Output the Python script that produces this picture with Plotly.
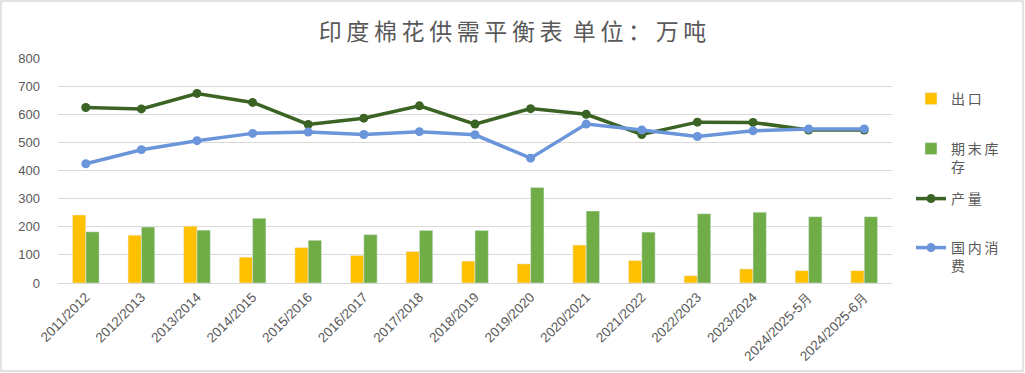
import plotly.graph_objects as go

categories = ["2011/2012", "2012/2013", "2013/2014", "2014/2015", "2015/2016",
              "2016/2017", "2017/2018", "2018/2019", "2019/2020", "2020/2021",
              "2021/2022", "2022/2023", "2023/2024", "2024/2025-5月", "2024/2025-6月"]
export_vals = [242, 170, 202, 92, 126, 98, 112, 78, 68, 135, 80, 26, 50, 44, 44]
stock_vals = [182, 199, 188, 230, 152, 172, 187, 187, 340, 256, 181, 246, 252, 236, 236]
production_vals = [624, 619, 674, 642, 564, 586, 630, 565, 620, 600, 528, 572, 571, 544, 544]
consumption_vals = [424, 474, 506, 532, 537, 528, 538, 527, 444, 565, 544, 521, 541, 548, 548]

W, H = 1025, 373
ML, MR, MT, MB = 58, 133, 58, 90
PW, PH = W - ML - MR, H - MT - MB

def px_x(x):
    return (x - ML) / PW

def px_y(y):
    return (H - MB - y) / PH

TS = "\u2009"
def spaced(s):
    return TS.join(list(s))

CJK = "Noto Sans CJK SC"
GRAY = "#595959"

fig = go.Figure()
fig.add_trace(go.Bar(x=categories, y=export_vals, name=spaced("出口"), showlegend=True,
                     marker_color="#FFC000", legend="legend"))
fig.add_trace(go.Bar(x=categories, y=stock_vals, name=spaced("期末库") + "<br>存", showlegend=True,
                     marker_color="#70AD47", legend="legend2"))
fig.add_trace(go.Scatter(x=categories, y=production_vals, name=spaced("产量"), showlegend=True,
                         mode="lines+markers", line=dict(color="#3A6324", width=3.5),
                         marker=dict(size=9, color="#3A6324"), legend="legend3"))
fig.add_trace(go.Scatter(x=categories, y=consumption_vals, name=spaced("国内消") + "<br>费", showlegend=True,
                         mode="lines+markers", line=dict(color="#6A95DA", width=3.5),
                         marker=dict(size=9, color="#6A95DA"), legend="legend4"))

leg_common = dict(font=dict(family=CJK, size=14, color=GRAY), bgcolor="rgba(0,0,0,0)",
                  xanchor="left", yanchor="top", valign="top", x=px_x(911))

fig.update_layout(
    width=W, height=H, showlegend=True,
    margin=dict(l=ML, r=MR, t=MT, b=MB, autoexpand=False),
    paper_bgcolor="white", plot_bgcolor="white",
    barmode="group", bargap=0.52, bargroupgap=0,
    title=dict(text=spaced("印度棉花供需平衡表") + "\u00a0\u00a0" + spaced("单位：万吨"),
               x=0.5, xref="container", xanchor="center", y=1 - 32 / H, yanchor="middle",
               font=dict(family=CJK, size=23, color=GRAY)),
    xaxis=dict(tickangle=-45, tickfont=dict(family="Liberation Sans", size=13.5, color=GRAY),
               range=[-0.5, len(categories) - 0.5],
               showline=True, linecolor="#D9D9D9", linewidth=1, showgrid=False, automargin=False),
    yaxis=dict(range=[0, 800], dtick=100, tickfont=dict(family="Liberation Sans", size=13, color=GRAY),
               gridcolor="#D9D9D9", gridwidth=1, zeroline=False, ticklabelstandoff=17, automargin=False),
    legend=dict(**leg_common, y=px_y(83)),
    legend2=dict(**leg_common, y=px_y(133)),
    legend3=dict(**leg_common, y=px_y(183)),
    legend4=dict(**leg_common, y=px_y(232)),
    shapes=[dict(type="rect", xref="paper", yref="paper",
                 x0=px_x(1), x1=px_x(1023), y0=px_y(371), y1=px_y(1),
                 line=dict(color="#D9D9D9", width=1.5), fillcolor="rgba(0,0,0,0)", layer="below")],
)

fig.write_html("out.html", config={"displayModeBar": False},
               post_script="document.body.style.margin='0';")
